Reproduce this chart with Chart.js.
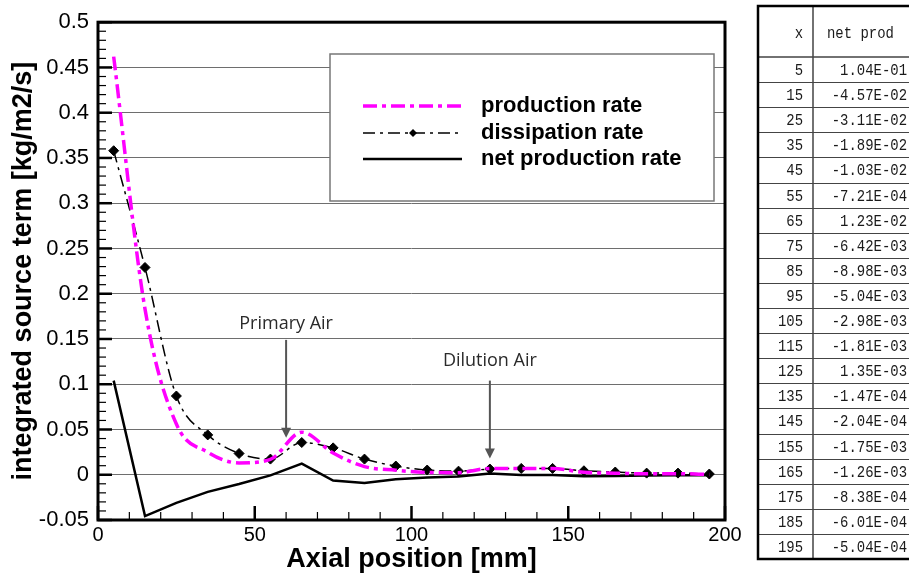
<!DOCTYPE html>
<html>
<head>
<meta charset="utf-8">
<script src="https://cdn.jsdelivr.net/npm/chart.js@4.4.1/dist/chart.umd.min.js"></script>
<style>
  html, body { margin: 0; padding: 0; background: #fff; }
  canvas { display: block; }
</style>
</head>
<body>
<canvas id="sourceTermChart" width="909" height="577"></canvas>
<script>
// axial positions [mm]
const positions = [5, 15, 25, 35, 45, 55, 65, 75, 85, 95, 105, 115, 125, 135, 145, 155, 165, 175, 185, 195];
const productionRate = [0.462, 0.183, 0.056, 0.025, 0.013, 0.017, 0.047, 0.024, 0.009, 0.005, 0.0025, 0.0023, 0.007, 0.0068, 0.0068, 0.0027, 0.0017, 0.001, 0.0012, 0.0003];
const dissipationRate = [0.358, 0.229, 0.087, 0.044, 0.0235, 0.0173, 0.0356, 0.0297, 0.0173, 0.0096, 0.0052, 0.004, 0.0063, 0.007, 0.007, 0.0044, 0.003, 0.0018, 0.0018, 0.0008];
// from the table
const netProductionRate = [1.04e-1, -4.57e-2, -3.11e-2, -1.89e-2, -1.03e-2, -7.21e-4, 1.23e-2, -6.42e-3, -8.98e-3, -5.04e-3, -2.98e-3, -1.81e-3, 1.35e-3, -1.47e-4, -2.04e-4, -1.75e-3, -1.26e-3, -8.38e-4, -6.01e-4, -5.04e-4];

const xTicks = [0, 50, 100, 150, 200];
const yTicks = [-0.05, 0, 0.05, 0.1, 0.15, 0.2, 0.25, 0.3, 0.35, 0.4, 0.45, 0.5];

const notes = [
  { text: "Primary Air", x: 60, textY: 0.167, from: 0.149, to: 0.041 },
  { text: "Dilution Air", x: 125, textY: 0.126, from: 0.104, to: 0.018 },
];

const toPoints = (vals) => vals.map((v, i) => ({ x: positions[i], y: v }));

function sci(v) {
  const [m, e] = v.toExponential(2).split("e");
  const n = parseInt(e, 10);
  return m + "E" + (n < 0 ? "-" : "+") + String(Math.abs(n)).padStart(2, "0");
}

const insideTicks = {
  id: "insideTicks",
  afterDatasetsDraw(chart) {
    const { ctx, chartArea: a, scales: { x, y } } = chart;
    ctx.save();
    ctx.strokeStyle = "#000";
    for (let i = -5; i <= 50; i++) {
      const py = y.getPixelForValue(i / 100);
      const major = i % 5 === 0;
      ctx.lineWidth = major ? 2.5 : 1.2;
      ctx.beginPath();
      ctx.moveTo(a.left, py);
      ctx.lineTo(a.left + (major ? 14 : 8), py);
      ctx.stroke();
    }
    for (let i = 0; i <= 20; i++) {
      const px = x.getPixelForValue(i * 10);
      const major = i % 5 === 0;
      ctx.lineWidth = major ? 2.5 : 1.2;
      ctx.beginPath();
      ctx.moveTo(px, a.bottom);
      ctx.lineTo(px, a.bottom - (major ? 14 : 8));
      ctx.stroke();
    }
    ctx.lineWidth = 3;
    ctx.strokeRect(a.left, a.top, a.right - a.left, a.bottom - a.top);
    ctx.restore();
  },
};

const legendBox = {
  id: "legendBox",
  afterDraw(chart) {
    const { ctx } = chart;
    ctx.save();
    ctx.fillStyle = "#fff";
    ctx.fillRect(330, 54, 384, 147);
    ctx.strokeStyle = "#777";
    ctx.lineWidth = 1.5;
    ctx.strokeRect(330, 54, 384, 147);
    const rows = [106, 133, 159];
    chart.data.datasets.forEach((ds, i) => {
      const yy = rows[i];
      ctx.strokeStyle = ds.borderColor;
      ctx.lineWidth = ds.borderWidth;
      ctx.setLineDash(ds.borderDash || []);
      ctx.beginPath();
      ctx.moveTo(363, yy);
      ctx.lineTo(462, yy);
      ctx.stroke();
      ctx.setLineDash([]);
      if (ds.pointRadius > 0) {
        ctx.fillStyle = "#000";
        ctx.beginPath();
        ctx.moveTo(413 - 4, yy);
        ctx.lineTo(413, yy - 4);
        ctx.lineTo(413 + 4, yy);
        ctx.lineTo(413, yy + 4);
        ctx.closePath();
        ctx.fill();
      }
      ctx.fillStyle = "#000";
      ctx.font = "bold 22px 'Liberation Sans', Arial, sans-serif";
      ctx.textBaseline = "middle";
      ctx.textAlign = "left";
      ctx.fillText(ds.label, 481, yy);
    });
    ctx.restore();
  },
};

const airNotes = {
  id: "airNotes",
  afterDraw(chart) {
    const { ctx, scales: { x, y } } = chart;
    ctx.save();
    ctx.strokeStyle = "#555";
    ctx.lineWidth = 2;
    ctx.font = "18px 'Open Sans', sans-serif";
    ctx.textAlign = "center";
    ctx.textBaseline = "middle";
    notes.forEach((n) => {
      const px = x.getPixelForValue(n.x);
      ctx.fillStyle = "#2a2a2a";
      ctx.fillText(n.text, px, y.getPixelForValue(n.textY));
      const y0 = y.getPixelForValue(n.from);
      const y1 = y.getPixelForValue(n.to);
      ctx.beginPath();
      ctx.moveTo(px, y0);
      ctx.lineTo(px, y1 - 8);
      ctx.stroke();
      ctx.fillStyle = "#555";
      ctx.beginPath();
      ctx.moveTo(px - 5, y1 - 10);
      ctx.lineTo(px + 5, y1 - 10);
      ctx.lineTo(px, y1);
      ctx.closePath();
      ctx.fill();
    });
    ctx.restore();
  },
};

// narrow serif text, like the song-style font of the table
function cellText(ctx, text, xRight, yMid) {
  ctx.save();
  ctx.translate(xRight, yMid);
  ctx.scale(0.82, 1);
  ctx.fillText(text, 0, 0);
  ctx.restore();
}

const valueTable = {
  id: "valueTable",
  afterDraw(chart) {
    const { ctx } = chart;
    const left = 758, mid = 813, right = 960, top = 6, headBottom = 57, rowH = 25.1;
    const bottom = headBottom + rowH * positions.length;
    ctx.save();
    ctx.strokeStyle = "#444";
    ctx.lineWidth = 1;
    for (let i = 1; i < positions.length; i++) {
      const yy = Math.round(headBottom + rowH * i) + 0.5;
      ctx.beginPath();
      ctx.moveTo(left, yy);
      ctx.lineTo(right, yy);
      ctx.stroke();
    }
    ctx.lineWidth = 1.5;
    ctx.beginPath();
    ctx.moveTo(left, headBottom);
    ctx.lineTo(right, headBottom);
    ctx.moveTo(mid, top);
    ctx.lineTo(mid, bottom);
    ctx.stroke();
    ctx.strokeStyle = "#000";
    ctx.lineWidth = 2.5;
    ctx.strokeRect(left, top, right - left, bottom - top);

    ctx.fillStyle = "#1a1a1a";
    ctx.font = "17px 'Liberation Mono', monospace";
    ctx.textBaseline = "middle";
    ctx.textAlign = "right";
    cellText(ctx, "x", 803, 33);
    ctx.textAlign = "left";
    cellText(ctx, "net prod", 827, 33);
    ctx.textAlign = "right";
    positions.forEach((p, i) => {
      const cy = headBottom + rowH * (i + 0.5) + 1;
      cellText(ctx, String(p), 803, cy);
      cellText(ctx, sci(netProductionRate[i]), 907, cy);
    });
    ctx.restore();
  },
};

const chartConfig = {
  type: "line",
  data: {
    datasets: [
      {
        label: "production rate",
        data: toPoints(productionRate),
        borderColor: "#ff00ff",
        borderWidth: 3.5,
        borderDash: [14, 5, 4, 5],
        pointRadius: 0,
        cubicInterpolationMode: "monotone",
        fill: false,
      },
      {
        label: "dissipation rate",
        data: toPoints(dissipationRate),
        borderColor: "#000",
        borderWidth: 1.5,
        borderDash: [12, 5, 3, 5],
        pointStyle: "rectRot",
        pointRadius: 5,
        pointBackgroundColor: "#000",
        pointBorderColor: "#000",
        pointBorderWidth: 1,
        cubicInterpolationMode: "monotone",
        fill: false,
      },
      {
        label: "net production rate",
        data: toPoints(netProductionRate),
        borderColor: "#000",
        borderWidth: 2.5,
        pointRadius: 0,
        tension: 0,
        fill: false,
      },
    ],
  },
  options: {
    responsive: false,
    animation: false,
    devicePixelRatio: 1,
    layout: { padding: { top: 19, right: 184, left: 0, bottom: 0 } },
    plugins: { legend: { display: false }, tooltip: { enabled: false } },
    scales: {
      x: {
        type: "linear",
        min: 0,
        max: 200,
        afterBuildTicks: (s) => { s.ticks = xTicks.map((v) => ({ value: v })); },
        afterFit: (s) => { s.height = 57; },
        grid: { display: false, drawTicks: false, tickLength: 0 },
        border: { display: false },
        ticks: {
          padding: 3,
          autoSkip: false,
          maxRotation: 0,
          color: "#000",
          font: { family: "'Liberation Sans', Arial, sans-serif", size: 20 },
        },
        title: {
          display: true,
          text: "Axial position [mm]",
          color: "#000",
          padding: { top: 0, bottom: 4 },
          font: { family: "'Liberation Sans', Arial, sans-serif", size: 27, weight: "bold", lineHeight: 1 },
        },
      },
      y: {
        min: -0.05,
        max: 0.5,
        afterBuildTicks: (s) => { s.ticks = yTicks.map((v) => ({ value: v })); },
        afterFit: (s) => { s.width = 98; },
        grid: { color: "#6e6e6e", lineWidth: 1, drawTicks: false, tickLength: 0 },
        border: { display: false },
        ticks: {
          padding: 9,
          color: "#000",
          font: { family: "'Liberation Sans', Arial, sans-serif", size: 22 },
          callback: (v) => String(+Number(v).toFixed(2)),
        },
        title: {
          display: true,
          text: "integrated source term [kg/m2/s]",
          color: "#000",
          padding: { top: 10, bottom: 0 },
          font: { family: "'Liberation Sans', Arial, sans-serif", size: 27, weight: "bold", lineHeight: 1 },
        },
      },
    },
  },
  plugins: [insideTicks, legendBox, airNotes, valueTable],
};

const sourceTermChart = new Chart(document.getElementById("sourceTermChart"), chartConfig);
</script>
</body>
</html>
